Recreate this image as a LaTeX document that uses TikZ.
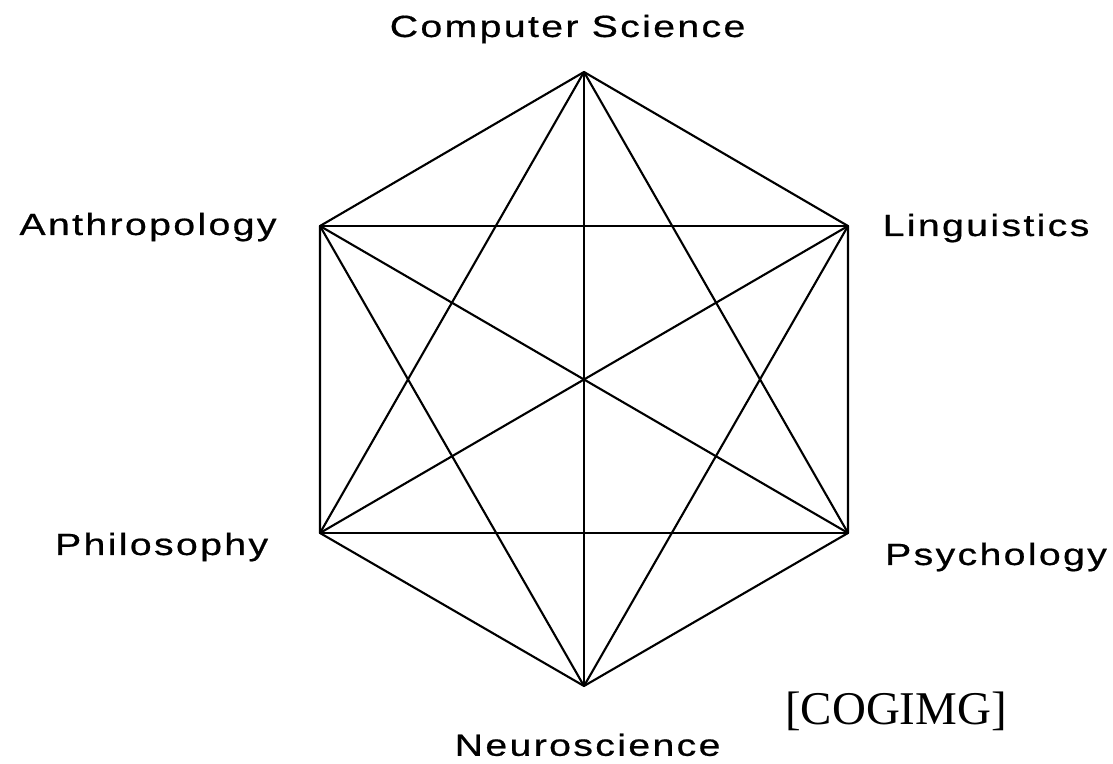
\documentclass[tikz,border=0pt]{standalone}
\usepackage{fontspec}
\usepackage{tikz}
\usetikzlibrary{positioning}
\newfontfamily\fieldfont{Liberation Sans}[LetterSpace=6,FakeBold=0.6]
\newfontfamily\tagfont{Liberation Serif}

\begin{document}
\begin{tikzpicture}[
        field/.style={anchor=base, inner sep=0pt,
                      font=\fieldfont\fontsize{21.8}{26}\selectfont},
        tag/.style={anchor=base, inner sep=0pt,
                    font=\tagfont\fontsize{33.4}{40}\selectfont},
        link/.style={line width=1.5pt, line cap=round, line join=round}
      ]
      \useasboundingbox (0,0) rectangle (27.825,19.075);

      % corners of the hexagon
      \coordinate (cs)  at (14.6,17.275);
      \coordinate (ant) at (8.0,13.425);
      \coordinate (lin) at (21.2,13.425);
      \coordinate (phi) at (8.0,5.75);
      \coordinate (psy) at (21.2,5.75);
      \coordinate (neu) at (14.6,1.925);

      \node[field] (cslbl)  at (14.19,18.15) {\scalebox{1.28}[1]{Computer Science}};
      \node[field] (antlbl) at (3.7,13.2)    {\scalebox{1.28}[1]{Anthropology}};
      \node[field] (linlbl) at (24.65,13.175) {\scalebox{1.28}[1]{Linguistics}};
      \node[field] (philbl) at (4.04,5.2)    {\scalebox{1.28}[1]{Philosophy}};
      \node[field] (psylbl) at (24.9,4.95)   {\scalebox{1.28}[1]{Psychology}};
      \node[field] (neulbl) at (14.69,0.18) {\scalebox{1.28}[1]{Neuroscience}};
      \node[tag] (cogimg) at (22.4,0.975) {[COGIMG]};

      % every field joined to every other
      \draw[link] (cs) -- (lin) -- (psy) -- (neu) -- (phi) -- (ant) -- (cs);
      \draw[link] (cs) -- (neu);
      \draw[link] (cs) -- (phi);
      \draw[link] (cs) -- (psy);
      \draw[link] (ant) -- (lin);
      \draw[link] (ant) -- (psy);
      \draw[link] (ant) -- (neu);
      \draw[link] (lin) -- (phi);
      \draw[link] (lin) -- (neu);
      \draw[link] (phi) -- (psy);
    \end{tikzpicture}
\end{document}
